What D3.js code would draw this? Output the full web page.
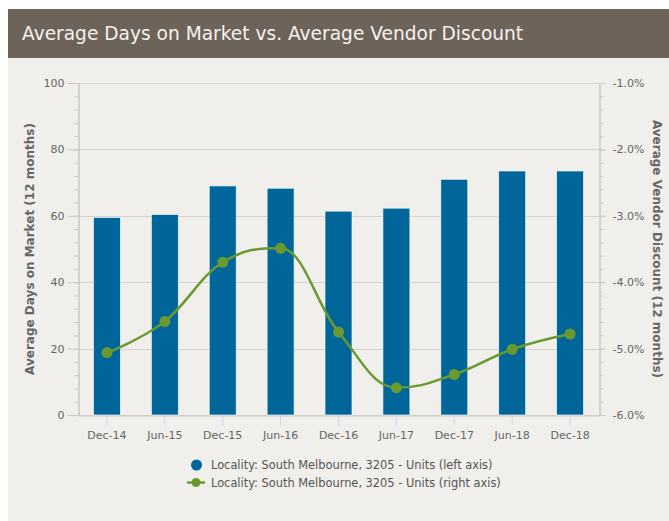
<!DOCTYPE html>
<html>
<head>
<meta charset="utf-8">
<script src="https://cdn.jsdelivr.net/npm/d3@7"></script>
<style>
  body { margin: 0; background: #fff; }
  text { font-family: "DejaVu Sans", Verdana, sans-serif; }
</style>
</head>
<body>
<svg id="chart" width="669" height="521"></svg>
<script>
'use strict';

// chart data
const categories = ["Dec-14", "Jun-15", "Dec-15", "Jun-16", "Dec-16", "Jun-17", "Dec-17", "Jun-18", "Dec-18"];
const daysOnMarket = [59.5, 60.4, 69.0, 68.3, 61.4, 62.3, 71.0, 73.5, 73.5];
const vendorDiscount = [-5.06, -4.59, -3.70, -3.49, -4.75, -5.59, -5.39, -5.01, -4.78];
const leftTicks = [0, 20, 40, 60, 80, 100];
const rightTicks = [-6, -5, -4, -3, -2, -1];
const legendLabels = [
	"Locality: South Melbourne, 3205 - Units (left axis)",
	"Locality: South Melbourne, 3205 - Units (right axis)"
];

const barColor = "#006699";
const lineColor = "#6a9a2f";
const labelColor = "#666666";

const svg = d3.select("#chart");

// card + title bar
svg.append("rect").attr("x", 8).attr("y", 9).attr("width", 661).attr("height", 512).attr("fill", "#f0efeb");
svg.append("rect").attr("x", 8).attr("y", 9).attr("width", 661).attr("height", 49).attr("fill", "#6e6358");
svg.append("text")
	.attr("x", 22).attr("y", 40)
	.attr("fill", "#f4f2ee")
	.style("font-size", "18.6px")
	.text("Average Days on Market vs. Average Vendor Discount");

const plot = {left: 78, right: 599, top: 83, bottom: 415};

const x = d3.scaleBand()
	.domain(categories)
	.range([plot.left, plot.right])
	.paddingInner(0.534)
	.paddingOuter(0.267);
const cx = (d) => x(d) + x.bandwidth() / 2;

const yLeft = d3.scaleLinear().domain([0, 100]).range([plot.bottom, plot.top]);
const yRight = d3.scaleLinear().domain([-6, -1]).range([plot.bottom, plot.top]);

// gridlines
svg.append("g").selectAll("line")
	.data(leftTicks)
	.join("line")
	.attr("x1", plot.left).attr("x2", plot.right)
	.attr("y1", (d) => Math.round(yLeft(d)) + 0.5)
	.attr("y2", (d) => Math.round(yLeft(d)) + 0.5)
	.attr("stroke", "#d3d2ce").attr("stroke-width", 1);

function styleAxis(g){
	g.select(".domain").attr("stroke", "#c8c8c8");
	g.selectAll(".tick line").attr("stroke", "#c8c8c8");
	g.selectAll(".tick text").attr("fill", labelColor).style("font-size", "11px").style("font-family", "DejaVu Sans, sans-serif");
}

// left axis: minor then major
svg.append("g")
	.attr("transform", `translate(${plot.left + 0.5},0)`)
	.call(d3.axisLeft(yLeft).tickValues(d3.range(0, 101, 4)).tickSize(4).tickFormat("").tickSizeOuter(0))
	.call(styleAxis);
svg.append("g")
	.attr("transform", `translate(${plot.left + 0.5},0)`)
	.call(d3.axisLeft(yLeft).tickValues(leftTicks).tickSize(11).tickPadding(3).tickSizeOuter(0))
	.call(styleAxis);

// right axis
svg.append("g")
	.attr("transform", `translate(${plot.right + 0.5},0)`)
	.call(d3.axisRight(yRight).tickValues(d3.range(-6, -0.99, 0.2)).tickSize(4).tickFormat("").tickSizeOuter(0))
	.call(styleAxis);
svg.append("g")
	.attr("transform", `translate(${plot.right + 0.5},0)`)
	.call(d3.axisRight(yRight).tickValues(rightTicks).tickSize(6).tickPadding(7).tickSizeOuter(0)
		.tickFormat((d) => d3.format(".1f")(d).replace("−", "-") + "%"))
	.call(styleAxis);

// bottom axis
const xAxis = svg.append("g")
	.attr("transform", `translate(0,${plot.bottom + 0.5})`)
	.call(d3.axisBottom(x).tickSize(10).tickPadding(6).tickSizeOuter(0))
	.call(styleAxis);
xAxis.selectAll(".tick line").attr("stroke", "#ccd6eb");

// axis titles
svg.append("text")
	.attr("transform", `translate(34,${(plot.top + plot.bottom) / 2}) rotate(-90)`)
	.attr("text-anchor", "middle")
	.attr("fill", labelColor)
	.style("font-size", "12px").style("font-weight", "bold")
	.text("Average Days on Market (12 months)");
svg.append("text")
	.attr("transform", `translate(653,${(plot.top + plot.bottom) / 2}) rotate(90)`)
	.attr("text-anchor", "middle")
	.attr("fill", labelColor)
	.style("font-size", "12px").style("font-weight", "bold")
	.text("Average Vendor Discount (12 months)");

// bars
svg.append("g").selectAll("rect")
	.data(categories)
	.join("rect")
	.attr("x", (d) => x(d))
	.attr("width", x.bandwidth())
	.attr("y", (d, i) => yLeft(daysOnMarket[i]))
	.attr("height", (d, i) => yLeft(0) - yLeft(daysOnMarket[i]))
	.attr("fill", barColor)
	.attr("stroke", "#ffffff").attr("stroke-width", 0.8).attr("stroke-opacity", 0.8);

// spline, highcharts style (control points 40% toward neighbours)
function splinePath(pts){
	const smoothing = 1.5, denom = smoothing + 1;
	const p = d3.path();
	p.moveTo(pts[0][0], pts[0][1]);
	let lastRight = null;
	for (let i = 1; i < pts.length; i++){
		const [px, py] = pts[i];
		const [lx, ly] = pts[i - 1];
		let leftX = px, leftY = py, rightX, rightY;
		if (i < pts.length - 1){
			const [nx, ny] = pts[i + 1];
			leftX = (smoothing * px + lx) / denom;
			leftY = (smoothing * py + ly) / denom;
			rightX = (smoothing * px + nx) / denom;
			rightY = (smoothing * py + ny) / denom;
			let correction = 0;
			if (rightX !== leftX){
				correction = ((rightY - leftY) * (rightX - px)) / (rightX - leftX) + py - rightY;
			}
			leftY += correction;
			rightY += correction;
			if (leftY > ly && leftY > py){
				leftY = Math.max(ly, py); rightY = 2 * py - leftY;
			} else if (leftY < ly && leftY < py){
				leftY = Math.min(ly, py); rightY = 2 * py - leftY;
			}
			if (rightY > ny && rightY > py){
				rightY = Math.max(ny, py); leftY = 2 * py - rightY;
			} else if (rightY < ny && rightY < py){
				rightY = Math.min(ny, py); leftY = 2 * py - rightY;
			}
		}
		const c1 = lastRight || [lx, ly];
		p.bezierCurveTo(c1[0], c1[1], leftX, leftY, px, py);
		lastRight = (i < pts.length - 1) ? [rightX, rightY] : null;
	}
	return p.toString();
}

const linePts = categories.map((d, i) => [cx(d), yRight(vendorDiscount[i])]);
svg.append("path")
	.attr("d", splinePath(linePts))
	.attr("fill", "none")
	.attr("stroke", lineColor)
	.attr("stroke-width", 2.5);
svg.append("g").selectAll("circle")
	.data(categories)
	.join("circle")
	.attr("cx", (d) => cx(d))
	.attr("cy", (d, i) => yRight(vendorDiscount[i]))
	.attr("r", 5.5)
	.attr("fill", lineColor);

// legend
const legend = svg.append("g").attr("transform", "translate(0,465)");
legend.append("circle").attr("cx", 196.5).attr("cy", 0).attr("r", 5.5).attr("fill", barColor);
legend.append("line").attr("x1", 187).attr("x2", 205).attr("y1", 17.5).attr("y2", 17.5)
	.attr("stroke", lineColor).attr("stroke-width", 2.5);
legend.append("circle").attr("cx", 196).attr("cy", 17.5).attr("r", 4.5).attr("fill", lineColor);
legend.selectAll("text")
	.data(legendLabels)
	.join("text")
	.attr("x", 211)
	.attr("y", (d, i) => i * 17.5 + 4)
	.attr("fill", "#555555")
	.style("font-size", "11.4px")
	.text((d) => d);
</script>
</body>
</html>
